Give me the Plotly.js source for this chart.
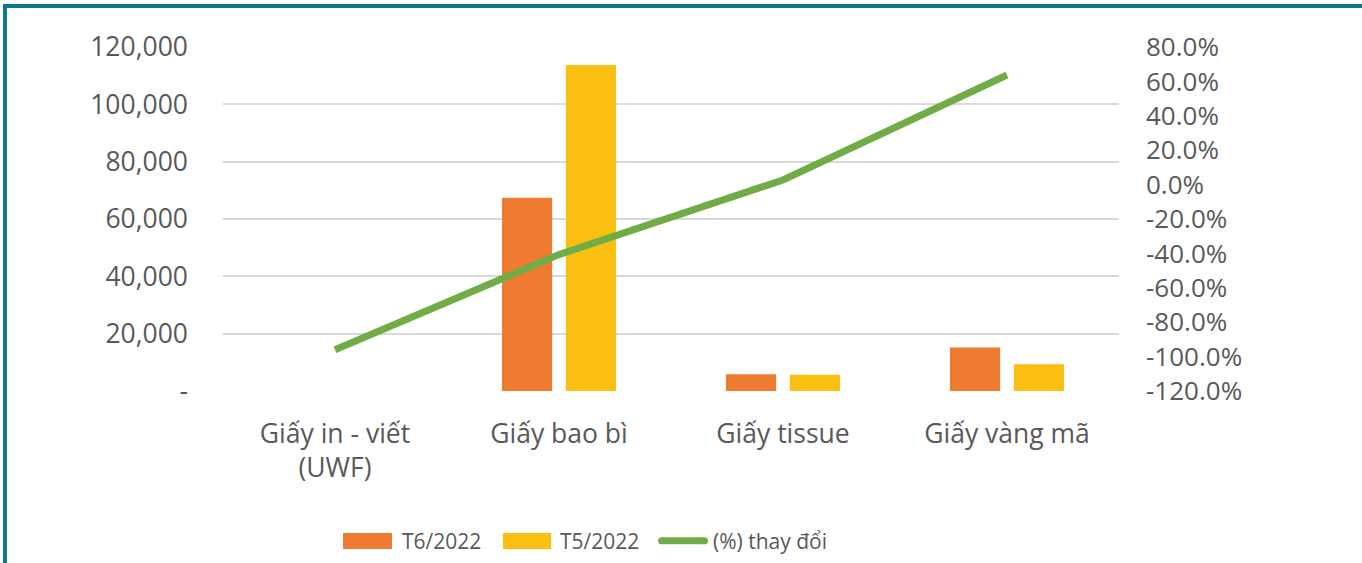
<!DOCTYPE html>
<html>
<head>
<meta charset="utf-8">
<script src="https://cdn.plot.ly/plotly-3.0.1.min.js"></script>
<style>
  html, body { margin: 0; padding: 0; background: #ffffff; }
  #wrap { position: relative; width: 1362px; height: 563px; overflow: hidden; }
  #chart { position: absolute; left: 0; top: 0; width: 1362px; height: 563px; }
  .bt { position: absolute; left: 3px; top: 4px; width: 1359px; height: 4px; background: #0f7785; }
  .bl { position: absolute; left: 3px; top: 4px; width: 4px; height: 559px; background: #0f7785; }
</style>
</head>
<body>
<div id="wrap">
  <div id="chart"></div>
  <div class="bt"></div>
  <div class="bl"></div>
</div>
<script>
// ---- Data ----
const categories = ["Giấy in - viết<br>(UWF)", "Giấy bao bì", "Giấy tissue", "Giấy vàng mã"];
const t6_2022 = [0, 67400, 5800, 15200];      // T6/2022
const t5_2022 = [0, 113700, 5650, 9300];      // T5/2022
const pctChange = [-96.0, -40.7, 2.7, 63.7];  // (%) thay đổi

const seriesNames = ["T6/2022", "T5/2022", "(%) thay đổi"];

const leftTickVals = [0, 20000, 40000, 60000, 80000, 100000, 120000];
const leftTickText = ["-", "20,000", "40,000", "60,000", "80,000", "100,000", "120,000"];
const rightTickVals = [-120, -100, -80, -60, -40, -20, 0, 20, 40, 60, 80];
const rightTickText = ["-120.0%", "-100.0%", "-80.0%", "-60.0%", "-40.0%", "-20.0%", "0.0%", "20.0%", "40.0%", "60.0%", "80.0%"];

// ---- Styles ----
const cOrange = "#EE7B2F";
const cYellow = "#FBBF12";
const cGreen = "#70AD47";
const txt = "#595959";
const FONT = "Open Sans, Noto Sans, sans-serif";

const traces = [
  { type: "bar", name: seriesNames[0], x: categories, y: t6_2022, marker: { color: cOrange }, showlegend: false, hoverinfo: "skip" },
  { type: "bar", name: seriesNames[1], x: categories, y: t5_2022, marker: { color: cYellow }, showlegend: false, hoverinfo: "skip" },
  { type: "scatter", mode: "lines", name: seriesNames[2], x: categories, y: pctChange, yaxis: "y2",
    line: { color: cGreen, width: 7 }, showlegend: false, hoverinfo: "skip" }
];

// legend drawn manually in paper coordinates (plot area: x 223..1119, y 47..391)
const legendY = -0.435;
const shapes = [
  { type: "rect", xref: "paper", yref: "paper", x0: 0.134, x1: 0.1886, y0: -0.4128, y1: -0.4593, fillcolor: cOrange, line: { width: 0 } },
  { type: "rect", xref: "paper", yref: "paper", x0: 0.3125, x1: 0.3661, y0: -0.4128, y1: -0.4593, fillcolor: cYellow, line: { width: 0 } },
  { type: "line", xref: "paper", yref: "paper", x0: 0.4895, x1: 0.5375, y0: legendY, y1: legendY, line: { color: cGreen, width: 7 } },
  { type: "circle", xref: "paper", yref: "paper", x0: 0.4856, x1: 0.4934, y0: legendY - 0.0102, y1: legendY + 0.0102, fillcolor: cGreen, line: { width: 0 } },
  { type: "circle", xref: "paper", yref: "paper", x0: 0.5336, x1: 0.5414, y0: legendY - 0.0102, y1: legendY + 0.0102, fillcolor: cGreen, line: { width: 0 } }
];
const legFont = { family: FONT, size: 21, color: txt };
const annotations = [
  { xref: "paper", yref: "paper", x: 0.1975, y: legendY, xanchor: "left", yanchor: "middle", text: seriesNames[0], showarrow: false, font: legFont },
  { xref: "paper", yref: "paper", x: 0.3739, y: legendY, xanchor: "left", yanchor: "middle", text: seriesNames[1], showarrow: false, font: legFont },
  { xref: "paper", yref: "paper", x: 0.5445, y: legendY, xanchor: "left", yanchor: "middle", text: seriesNames[2], showarrow: false, font: legFont }
];

const layout = {
  width: 1362, height: 563,
  margin: { l: 223, r: 243, t: 47, b: 172, pad: 0 },
  paper_bgcolor: "#ffffff", plot_bgcolor: "#ffffff",
  barmode: "group", bargap: 0.43, bargroupgap: 0.215,
  showlegend: false,
  font: { family: FONT, color: txt, size: 26 },
  xaxis: {
    type: "category", showgrid: false, zeroline: false, showline: false, ticks: "",
    tickfont: { family: FONT, size: 26.5, color: txt }, ticklabelstandoff: 24
  },
  yaxis: {
    range: [0, 120000], tickvals: leftTickVals, ticktext: leftTickText,
    showgrid: true, gridcolor: "#d9d9d9", gridwidth: 2, zeroline: false, showline: false, ticks: "",
    tickfont: { family: FONT, size: 26.5, color: txt }, ticklabelstandoff: 34
  },
  yaxis2: {
    overlaying: "y", side: "right", range: [-120, 80], tickvals: rightTickVals, ticktext: rightTickText,
    showgrid: false, zeroline: false, showline: false, ticks: "",
    tickfont: { family: FONT, size: 26, color: txt }, ticklabelstandoff: 26
  },
  shapes: shapes,
  annotations: annotations
};

Plotly.newPlot("chart", traces, layout, { displayModeBar: false, staticPlot: true });
</script>
</body>
</html>
